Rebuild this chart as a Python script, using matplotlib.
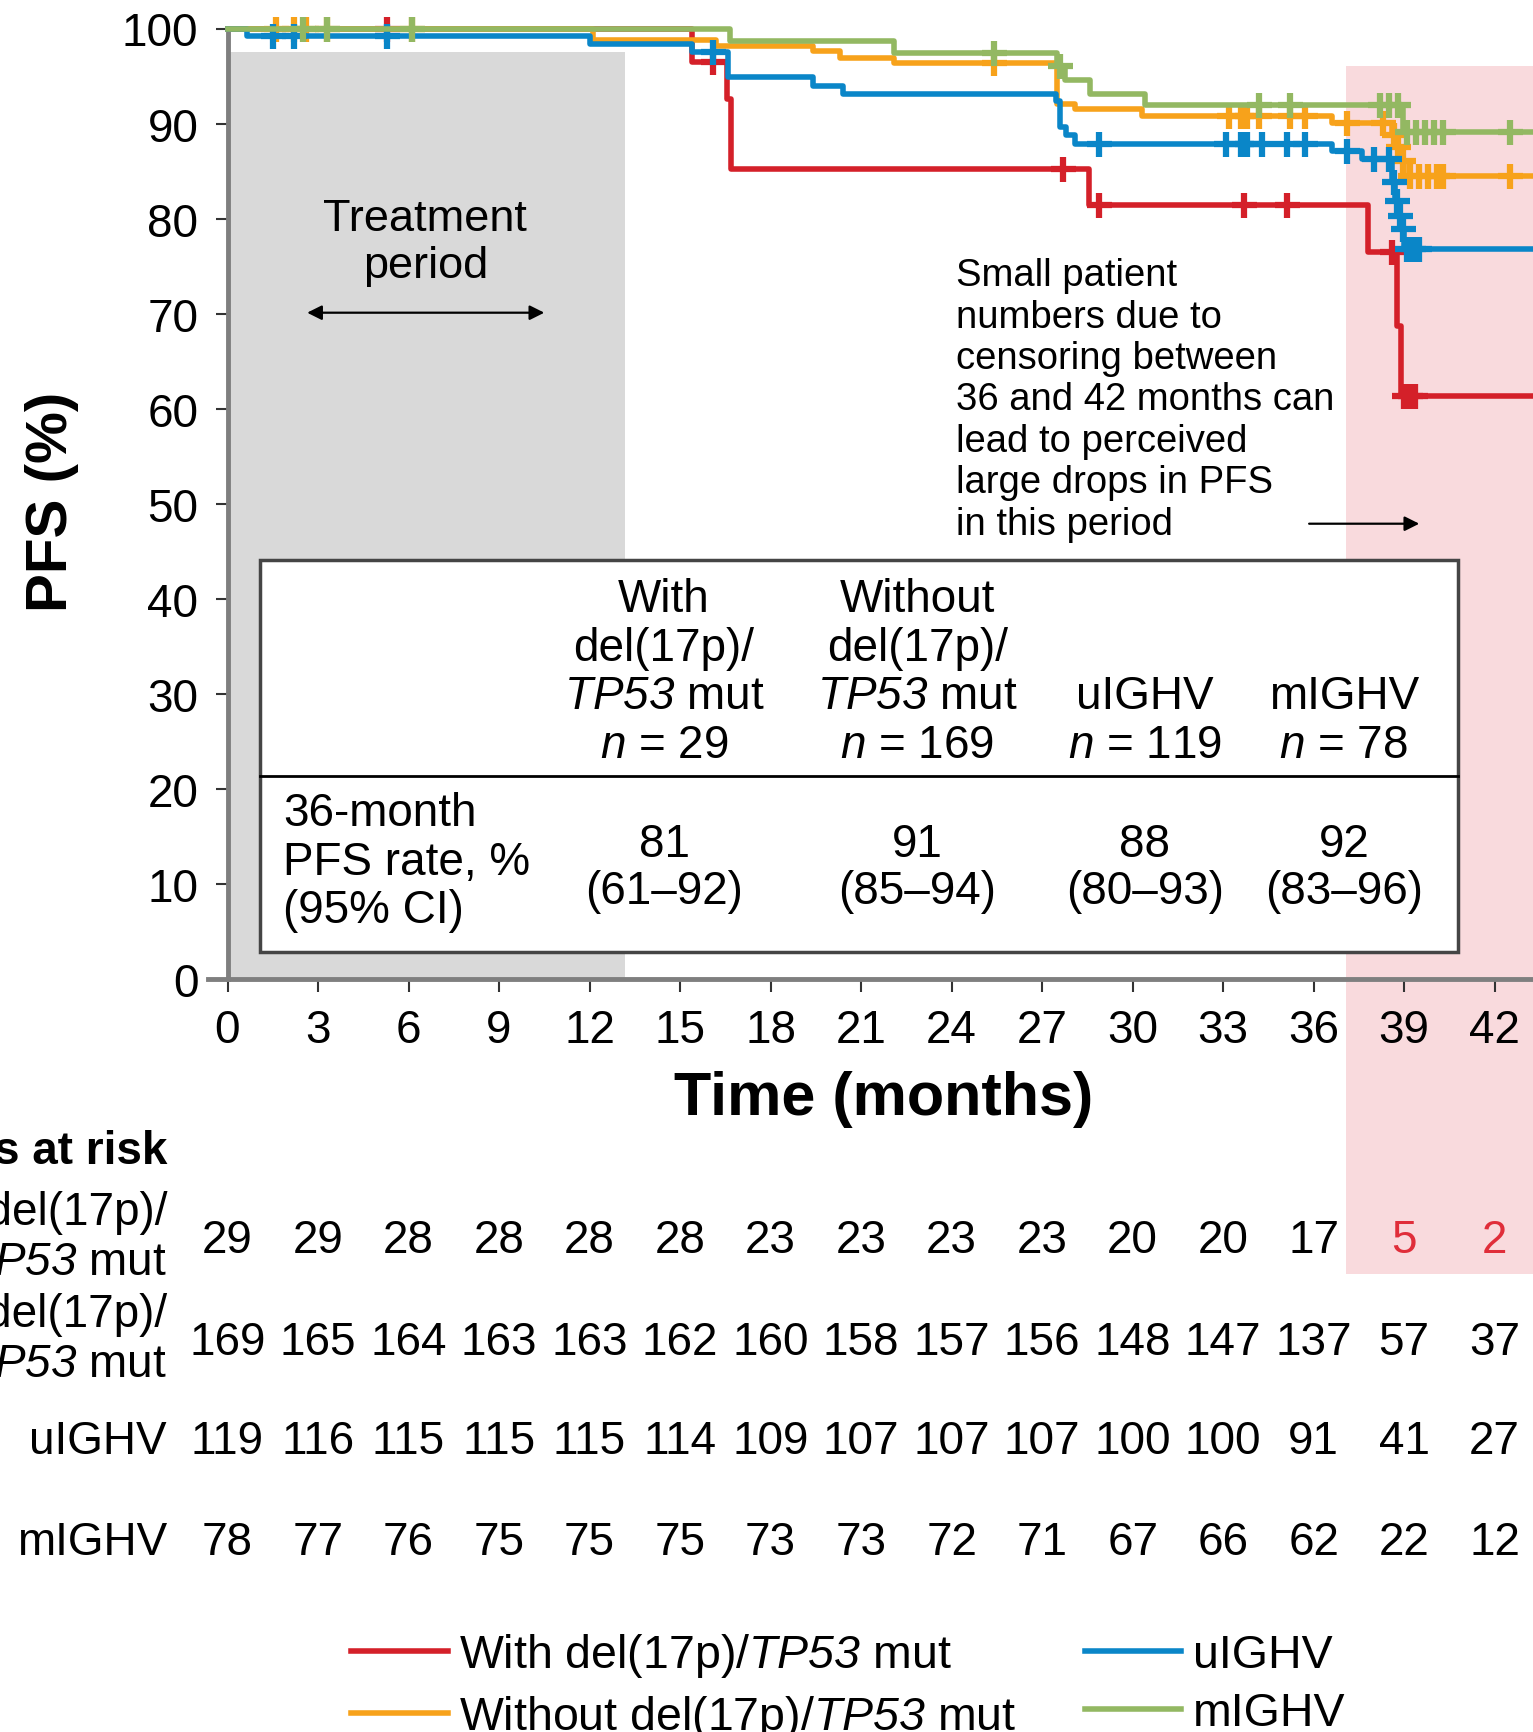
import numpy as np
import matplotlib
matplotlib.use("Agg")
import matplotlib.pyplot as plt
from matplotlib.patches import Rectangle
from matplotlib.transforms import blended_transform_factory

plt.rcParams['font.family'] = ['Liberation Sans', 'DejaVu Sans']
plt.rcParams['mathtext.fontset'] = 'custom'
# mathtext only used for italic gene names / n; digits in \mathit fall back to rm
plt.rcParams['mathtext.rm'] = 'Liberation Sans:italic'
plt.rcParams['mathtext.it'] = 'Liberation Sans:italic'
plt.rcParams['mathtext.bf'] = 'Liberation Sans:bold'

# Kaplan-Meier steps (months, PFS %)
del_t = [0, 15.4, 16.55, 16.7, 28.55, 37.8, 38.75, 38.9, 44]
del_s = [100, 96.5, 92.6, 85.2, 81.4, 76.5, 68.7, 61.3, 61.3]
del_cens = [5.3, 16.1, 27.7, 28.9, 33.7, 35.1, 38.6, 39.0, 39.2, 39.35]

wo_t = [0, 12.1, 16.2, 19.4, 20.3, 22.1, 27.5, 28.1, 30.3, 36.6, 38.6, 38.75, 38.9, 39.0, 44]
wo_s = [100, 98.8, 98.2, 97.6, 96.9, 96.4, 92.1, 91.5, 90.8, 90.1, 88.8, 87.5, 86.1, 84.5, 84.5]
wo_cens = [1.6, 2.2, 2.6, 3.3, 6.1, 25.4, 33.2, 33.6, 33.8, 34.2, 35.2, 35.7, 37.1, 38.3,
           38.65, 38.8, 38.95, 39.2, 39.5, 39.8, 40.1, 40.3, 42.5]

ui_t = [0, 0.65, 12.0, 15.4, 16.6, 19.4, 20.4, 27.45, 27.6, 27.8, 28.1, 36.6, 37.6,
        38.6, 38.7, 38.8, 38.9, 39.0, 44]
ui_s = [100, 99.2, 98.4, 97.5, 94.9, 94.0, 93.1, 92.4, 89.6, 88.8, 87.9, 87.1, 86.3,
        83.8, 81.9, 80.3, 78.9, 76.8, 76.8]
ui_cens = [1.5, 2.2, 5.3, 16.1, 28.9, 33.1, 33.6, 33.8, 34.3, 35.1, 35.7, 37.1, 38.0, 38.5,
           38.65, 38.75, 38.85, 38.95, 39.1, 39.3, 39.5]

m_t = [0, 16.65, 22.1, 27.5, 27.75, 28.6, 30.4, 38.95, 44]
m_s = [100, 98.7, 97.4, 96.1, 94.6, 93.1, 91.9, 89.1, 89.1]
m_cens = [2.5, 3.3, 6.1, 25.4, 27.6, 34.2, 35.2, 38.2, 38.5, 38.8, 39.1, 39.4, 39.7,
          40.0, 40.3, 42.5]

# patients at risk
risk_times = [0, 3, 6, 9, 12, 15, 18, 21, 24, 27, 30, 33, 36, 39, 42]
risk_del = [29, 29, 28, 28, 28, 28, 23, 23, 23, 23, 20, 20, 17, 5, 2]
risk_wo = [169, 165, 164, 163, 163, 162, 160, 158, 157, 156, 148, 147, 137, 57, 37]
risk_ui = [119, 116, 115, 115, 115, 114, 109, 107, 107, 107, 100, 100, 91, 41, 27]
risk_m = [78, 77, 76, 75, 75, 75, 73, 73, 72, 71, 67, 66, 62, 22, 12]

# inset table
col_heads = [['With', 'del(17p)/', r'$\mathit{TP53}$ mut', r'$\mathit{n}$ = 29'],
             ['Without', 'del(17p)/', r'$\mathit{TP53}$ mut', r'$\mathit{n}$ = 169'],
             ['uIGHV', r'$\mathit{n}$ = 119'],
             ['mIGHV', r'$\mathit{n}$ = 78']]
pfs36 = ['81', '91', '88', '92']
pfs36_ci = ['(61\u201392)', '(85\u201394)', '(80\u201393)', '(83\u201396)']

colors = ['#d42029', '#f7a21b', '#0a86c8', '#93b862']
labels = [r'With del(17p)/$\mathit{TP53}$ mut', r'Without del(17p)/$\mathit{TP53}$ mut',
          'uIGHV', 'mIGHV']

note = ['Small patient', 'numbers due to', 'censoring between', '36 and 42 months can',
        'lead to perceived', 'large drops in PFS', 'in this period']

FS = 33
W, H = 1533, 1733
fig = plt.figure(figsize=(W / 100, H / 100), dpi=100)
ax = fig.add_axes([227.5 / W, 1 - 980 / H, 1 - 227.5 / W, 950.5 / H])
ax.set_xlim(0, 43.27)
ax.set_ylim(0, 100)

for s in ['top', 'right']:
    ax.spines[s].set_visible(False)
for s in ['left', 'bottom']:
    ax.spines[s].set_color('#7f7f7f')
    ax.spines[s].set_linewidth(3.5)
ax.spines['bottom'].set_bounds(-0.65, 43.27)

ax.set_xticks(risk_times)
ax.set_yticks(range(0, 101, 10))
ax.tick_params(direction='out', length=9, width=1.5, color='#333333', labelsize=FS)
ax.tick_params(axis='x', pad=12)
ax.tick_params(axis='y', pad=12)

# shaded periods
ax.add_patch(Rectangle((0, 0), 13.18, 97.5, facecolor='#d9d9d9', edgecolor='none', zorder=0.5))
ax.add_patch(Rectangle((37.07, -31.0), 10, 127.1, facecolor='#f9dadd', edgecolor='none',
                       zorder=0.4, clip_on=False))

curves = [(del_t, del_s, del_cens), (wo_t, wo_s, wo_cens), (ui_t, ui_s, ui_cens), (m_t, m_s, m_cens)]
handles = []
for (t, sv, cens), c, lab in zip(curves, colors, labels):
    ln, = ax.plot(t, sv, drawstyle='steps-post', color=c, lw=4, clip_on=False, zorder=3, label=lab)
    idx = np.searchsorted(t, cens, side='right') - 1
    ax.plot(cens, np.array(sv)[idx], ls='none', marker='+', ms=18, mew=4.5, color=c,
            clip_on=False, zorder=3)
    handles.append(ln)

# treatment period label
for j, line in enumerate(['Treatment', 'period']):
    ax.text(6.56, 78.84 - j * 4.97, line, ha='center', va='baseline', fontsize=32.5, zorder=5)
ax.annotate('', xy=(10.5, 70.1), xytext=(2.64, 70.1),
            arrowprops=dict(arrowstyle='<|-|>', color='black', lw=1.6, mutation_scale=22,
                            shrinkA=0, shrinkB=0))

# censoring note
for j, line in enumerate(note):
    ax.text(24.15, 73.0 - j * 4.36, line, ha='left', va='baseline', fontsize=27.5, zorder=5)
ax.annotate('', xy=(39.5, 47.9), xytext=(35.85, 47.9),
            arrowprops=dict(arrowstyle='-|>', color='black', lw=1.6, mutation_scale=22,
                            shrinkA=0, shrinkB=0))

# inset table
ax.add_patch(Rectangle((1.08, 2.89), 39.71, 41.15, facecolor='white', edgecolor='#454545',
                       lw=2.5, zorder=4))
ax.plot([1.08, 40.79], [21.33, 21.33], color='black', lw=2, zorder=5)
col_x = [14.47, 22.86, 30.4, 37.0]
dy = 5.1
for x, head, v, ci in zip(col_x, col_heads, pfs36, pfs36_ci):
    n = len(head)
    for j, line in enumerate(head):
        ax.text(x, 23.4 + (n - 1 - j) * dy, line, ha='center', va='baseline', fontsize=FS, zorder=6)
    ax.text(x, 12.9, v, ha='center', va='baseline', fontsize=FS, zorder=6)
    ax.text(x, 7.95, ci, ha='center', va='baseline', fontsize=FS, zorder=6)
for j, line in enumerate(['36-month', 'PFS rate, %', '(95% CI)']):
    ax.text(1.84, 16.15 - j * dy, line, ha='left', va='baseline', fontsize=FS, zorder=6)

# axis titles
fig.text(52 / W, 1 - 502 / H, 'PFS (%)', rotation=90, ha='center', va='center',
         fontsize=42, fontweight='bold')
fig.text(884 / W, 1 - 1099 / H, 'Time (months)', ha='center', va='center',
         fontsize=44, fontweight='bold')

# patients at risk
tr = blended_transform_factory(ax.transData, fig.transFigure)
fig.text(167 / W, 1 - 1164 / H, 'Patients at risk', ha='right', va='baseline',
         fontsize=FS, fontweight='bold')
row_labels = [['With del(17p)/', r'$\mathit{TP53}$ mut'],
              ['Without del(17p)/', r'$\mathit{TP53}$ mut'],
              ['uIGHV'], ['mIGHV']]
row_base = [1253, 1355, 1454, 1555]
for rl, yb, counts in zip(row_labels, row_base, [risk_del, risk_wo, risk_ui, risk_m]):
    if len(rl) == 2:
        fig.text(167 / W, 1 - (yb - 28) / H, rl[0], ha='right', va='baseline', fontsize=FS)
        fig.text(167 / W, 1 - (yb + 22) / H, rl[1], ha='right', va='baseline', fontsize=FS)
    else:
        fig.text(167 / W, 1 - yb / H, rl[0], ha='right', va='baseline', fontsize=FS)
    for x, n in zip(risk_times, counts):
        col = '#e02e3a' if x > 37 and counts is risk_del else 'black'
        ax.text(x, 1 - yb / H, str(n), transform=tr, ha='center', va='baseline',
                fontsize=FS, color=col, clip_on=False)

fig.legend(handles=handles, labels=labels, loc='upper left', bbox_to_anchor=(351 / W, 1 - 1632 / H),
           ncol=2, frameon=False, fontsize=33.5, borderpad=0, borderaxespad=0,
           handlelength=2.08, handletextpad=0.24, columnspacing=1.47, labelspacing=0.3)

fig.savefig('out.png', dpi=100)
